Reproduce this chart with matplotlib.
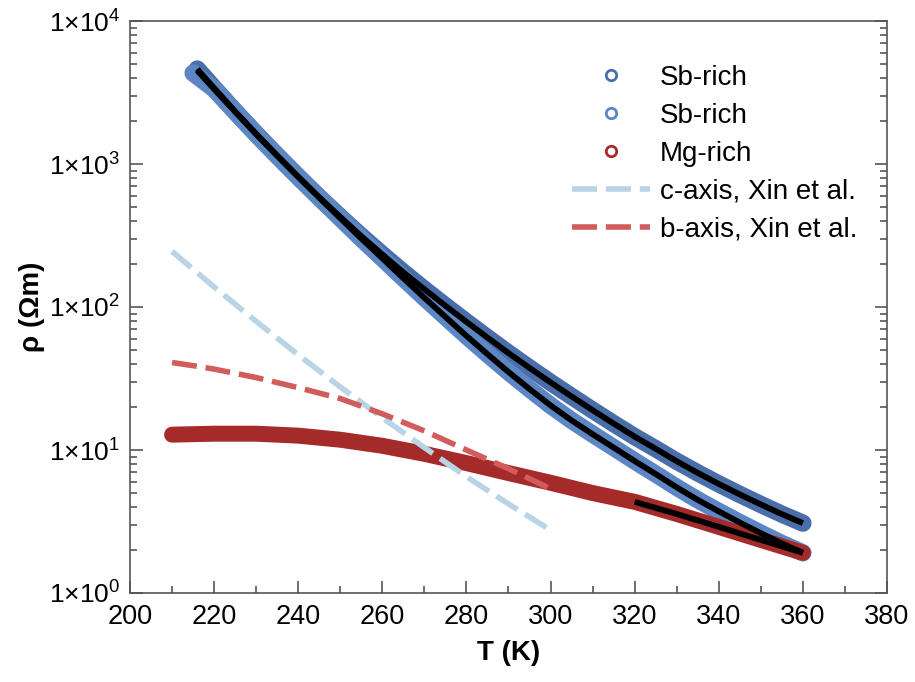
import math
import matplotlib
matplotlib.use("Agg")
import matplotlib.pyplot as plt
from matplotlib.lines import Line2D
from matplotlib.ticker import FixedLocator, LogLocator, NullFormatter, FuncFormatter

plt.rcParams['font.family'] = ['Liberation Sans', 'DejaVu Sans']
plt.rcParams['mathtext.fontset'] = 'custom'
plt.rcParams['mathtext.rm'] = 'Liberation Sans'

# Sb-rich sample 1 (upper branch at high T)
T_sb1 = [216, 220, 225, 230, 235, 240, 245, 250, 255, 260, 265, 270, 275, 280, 285,
         290, 295, 300, 305, 310, 315, 320, 325, 330, 335, 340, 345, 350, 355, 360]
rho_sb1 = [4613, 3396, 2333, 1626, 1143, 813, 585, 426, 313, 233, 175, 133, 102, 78.7, 61.1,
           47.6, 37.5, 29.7, 23.7, 19.0, 15.3, 12.4, 10.2, 8.34, 6.92, 5.79, 4.89, 4.16, 3.56, 3.08]

# Sb-rich sample 2 (lower branch at high T)
T_sb2 = [215, 220, 225, 230, 235, 240, 245, 250, 255, 260, 265, 270, 275, 280, 285,
         290, 295, 300, 305, 310, 315, 320, 325, 330, 335, 340, 345, 350, 355, 360]
rho_sb2 = [4325, 3342, 2317, 1614, 1143, 813, 581, 418, 301, 219, 159, 116, 85.3, 62.8, 46.8,
           35.1, 26.7, 20.5, 16.1, 12.9, 10.4, 8.37, 6.79, 5.48, 4.48, 3.72, 3.11, 2.62, 2.22, 1.91]

# Mg-rich sample
T_mg = [210, 220, 230, 240, 250, 260, 270, 280, 290, 300, 310, 320, 330, 340, 350, 360]
rho_mg = [12.8, 13.0, 13.0, 12.6, 11.8, 10.7, 9.4, 8.1, 6.9, 5.9, 5.0, 4.34, 3.57, 2.90, 2.35, 1.91]

# Fits to the measured curves
T_fit1 = T_sb1[:]
rho_fit1 = rho_sb1[:]
T_fit2 = [216] + T_sb2[1:]
rho_fit2 = [4500] + rho_sb2[1:]
T_fit_mg = [320, 330, 340, 350, 360]
rho_fit_mg = [4.34, 3.57, 2.90, 2.35, 1.91]

# Literature curves (Xin et al.)
T_c = [210, 220, 230, 240, 250, 260, 270, 280, 290, 300]
rho_c = [245, 138, 79.4, 46.3, 27.6, 16.8, 10.4, 6.5, 4.2, 2.75]
T_b = [210, 215, 220, 230, 240, 250, 260, 270, 280, 290, 300]
rho_b = [40.9, 38.9, 36.8, 32.1, 27.3, 22.9, 17.9, 13.6, 10.0, 7.4, 5.35]

col_sb1 = '#4a6ea9'
col_sb2 = '#5c86c4'
col_mg = '#a52a2a'
col_c = '#b9d3e7'
col_b = '#d25c5c'

fig = plt.figure(figsize=(9.15, 6.82), dpi=100)
ax = fig.add_axes([130/915, 89/682, 757/915, 572/682])

for T, r, c, w in [(T_sb1, rho_sb1, col_sb1, 12.5), (T_sb2, rho_sb2, col_sb2, 12.5),
                   (T_mg, rho_mg, col_mg, 11.5)]:
    ax.plot(T, r, color=c, lw=w, solid_capstyle='round', solid_joinstyle='round', zorder=2)

ax.plot(T_c, rho_c, color=col_c, lw=4, dashes=(4.5, 1.6), zorder=3)
ax.plot(T_b, rho_b, color=col_b, lw=4, dashes=(4.5, 1.6), zorder=3)

for T, r in [(T_fit1, rho_fit1), (T_fit2, rho_fit2), (T_fit_mg, rho_fit_mg)]:
    ax.plot(T, r, color='black', lw=4.2, solid_capstyle='butt', solid_joinstyle='round', zorder=4)

ax.set_yscale('log')
ax.set_xlim(200, 380)
ax.set_ylim(1, 1e4)

ax.xaxis.set_major_locator(FixedLocator(list(range(200, 381, 20))))
ax.xaxis.set_minor_locator(FixedLocator(list(range(210, 380, 20))))
ax.yaxis.set_major_locator(LogLocator(base=10, numticks=10))
ax.yaxis.set_minor_locator(LogLocator(base=10, subs=range(2, 10), numticks=10))
ax.yaxis.set_minor_formatter(NullFormatter())
ax.yaxis.set_major_formatter(FuncFormatter(
    lambda v, p: r'$\mathregular{1{\times}10^{%d}}$' % round(math.log10(v))))

ax.tick_params(axis='both', which='both', direction='in', top=False, right=True,
               colors='#555555', labelcolor='black')
ax.tick_params(axis='x', labelsize=19.5)
ax.tick_params(axis='y', labelsize=19)
ax.tick_params(axis='both', which='major', length=9, width=1.2)
ax.tick_params(axis='both', which='minor', length=5, width=1.2)
ax.tick_params(axis='x', which='major', pad=8)
ax.tick_params(axis='y', which='major', pad=7)

for s in ax.spines.values():
    s.set_color('#555555')
    s.set_linewidth(1.2)

ax.set_xlabel('T (K)', fontsize=20, fontweight='bold', labelpad=7)
ax.set_ylabel('ρ (Ωm)', fontsize=20, fontweight='bold', labelpad=3)

handles = [
    Line2D([], [], ls='none', marker='o', ms=7.5, mfc='none', mec=col_sb1, mew=2),
    Line2D([], [], ls='none', marker='o', ms=7.5, mfc='none', mec=col_sb2, mew=2),
    Line2D([], [], ls='none', marker='o', ms=7.5, mfc='none', mec=col_mg, mew=2),
    Line2D([], [], color=col_c, lw=4, dashes=(4.5, 1.6)),
    Line2D([], [], color=col_b, lw=4, dashes=(4.5, 1.6)),
]
labels = ['Sb-rich', 'Sb-rich', 'Mg-rich', 'c-axis, Xin et al.', 'b-axis, Xin et al.']
ax.legend(handles, labels, loc='upper left', bbox_to_anchor=(572/915, 1 - 65/682),
          bbox_transform=fig.transFigure, frameon=False, fontsize=20,
          handlelength=2.8, handletextpad=0.36, labelspacing=0.43,
          borderpad=0, borderaxespad=0)

fig.savefig('out.png', dpi=100)
